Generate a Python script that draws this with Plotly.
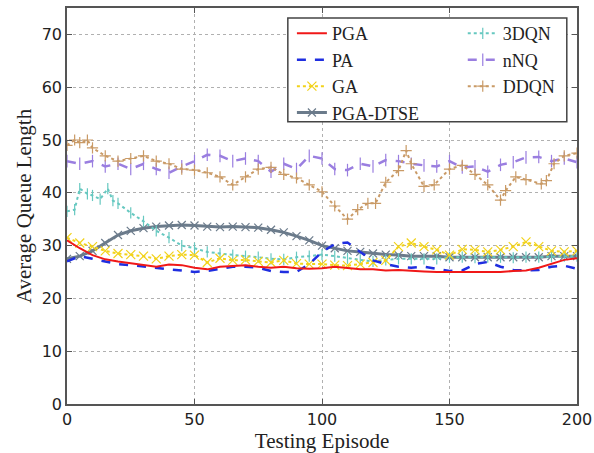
import plotly.graph_objects as go

EPISODES = [0, 5, 10, 15, 20, 25, 30, 35, 40, 45, 50, 55, 60, 65, 70, 75, 80, 85, 90, 95,
            100, 105, 110, 115, 120, 125, 130, 135, 140, 145, 150, 155, 160, 165, 170, 175,
            180, 185, 190, 195, 200]

PGA = [31.0, 29.5, 28.2, 27.4, 27.0, 26.7, 26.3, 26.0, 26.4, 26.3, 25.8, 25.5, 26.0, 26.2,
       26.3, 26.0, 25.8, 26.0, 25.7, 25.6, 25.7, 26.0, 25.8, 25.5, 25.5, 25.3, 25.4, 25.2,
       25.1, 25.0, 25.0, 25.0, 25.0, 25.1, 25.0, 25.2, 25.3, 25.8, 26.5, 27.3, 27.6]

PA = [27.0, 28.0, 27.5, 27.0, 26.5, 26.3, 26.0, 25.8, 25.5, 25.3, 25.0, 25.2, 25.6, 26.0,
      26.0, 25.8, 25.2, 25.0, 25.0, 26.5, 28.8, 30.3, 30.6, 28.8, 27.2, 26.5, 26.0, 25.8,
      26.0, 25.6, 25.2, 25.3, 26.5, 26.9, 26.0, 25.4, 25.3, 25.4, 26.0, 26.2, 25.6]

GA = [31.5, 30.5, 29.8, 29.0, 28.5, 28.3, 28.0, 27.5, 28.0, 28.3, 28.2, 26.8, 27.6, 27.2,
      27.3, 27.0, 26.8, 27.2, 26.6, 26.5, 26.5, 26.3, 26.2, 26.5, 26.8, 27.2, 29.8, 30.5,
      29.8, 29.2, 28.2, 29.3, 29.2, 28.8, 29.2, 29.8, 30.7, 29.8, 29.0, 28.8, 29.0]

PGA_DTSE = [27.5, 28.0, 29.0, 30.5, 32.0, 32.8, 33.3, 33.6, 33.8, 33.9, 33.8, 33.6, 33.5,
            33.6, 33.5, 33.4, 33.0, 32.5, 31.8, 31.0, 30.0, 29.5, 29.0, 28.8, 28.5, 28.3,
            28.2, 28.0, 28.0, 28.0, 27.8, 27.8, 27.8, 27.8, 27.8, 27.8, 27.8, 27.8, 28.0,
            28.0, 28.0]

DQN3_EP = [0, 3, 5, 8, 10, 13, 16, 18, 20, 25, 30, 35, 40, 45, 50, 55, 60, 65, 70, 75, 80,
           85, 90, 95, 100, 105, 110, 115, 120, 125, 130, 135, 140, 145, 150, 155, 160, 165,
           170, 175, 180, 185, 190, 195, 200]
DQN3 = [36.5, 36.8, 40.8, 39.8, 39.5, 38.8, 40.8, 38.5, 38.0, 36.2, 34.6, 32.8, 31.5, 30.0,
        29.5, 28.8, 28.5, 28.2, 28.0, 27.8, 27.5, 27.4, 27.8, 28.0, 28.3, 28.0, 27.6, 27.3,
        27.0, 27.3, 27.5, 27.5, 27.5, 27.5, 27.8, 27.8, 27.7, 27.8, 27.8, 27.7, 27.8, 27.8,
        27.9, 28.0, 28.0]

NNQ = [46.0, 45.5, 46.0, 45.0, 45.5, 44.5, 45.5, 44.5, 43.8, 45.0, 46.0, 47.2, 47.0, 46.0,
       46.5, 46.0, 44.0, 45.5, 44.5, 47.0, 46.5, 44.5, 44.3, 45.5, 45.0, 46.2, 46.0, 45.5,
       45.2, 45.0, 46.0, 44.8, 45.0, 44.0, 45.3, 45.8, 46.7, 46.8, 46.0, 46.5, 45.8]

DDQN_EP = [0, 3, 5, 8, 10, 15, 20, 25, 30, 35, 40, 45, 50, 55, 60, 65, 70, 75, 80, 85, 90,
           95, 100, 105, 110, 114, 118, 121, 125, 130, 133, 135, 140, 144, 150, 155, 160,
           165, 170, 172, 176, 180, 186, 188, 191, 195, 200]
DDQN = [49.0, 50.0, 49.5, 50.0, 48.5, 47.0, 46.0, 46.5, 47.0, 46.0, 45.5, 44.5, 44.3, 43.8,
        43.0, 41.5, 43.0, 44.5, 44.8, 43.5, 42.8, 41.5, 40.2, 37.5, 35.0, 36.8, 38.0, 38.0,
        42.0, 44.2, 48.0, 45.5, 41.2, 41.5, 44.5, 45.2, 43.5, 41.5, 38.6, 40.4, 43.0, 42.5,
        41.7, 42.3, 45.5, 47.0, 47.5]

X_TICKS = [0, 50, 100, 150, 200]
Y_TICKS = [0, 10, 20, 30, 40, 50, 60, 70]

fig = go.Figure()

def add(name, x, y, color, dash, width, symbol=None, msize=7, rank=1, legend="legend"):
    mode = "lines+markers" if symbol else "lines"
    kw = dict(x=x, y=y, name=name, mode=mode, legendrank=rank, legend=legend,
              line=dict(color=color, dash=dash, width=width))
    if symbol:
        kw["marker"] = dict(symbol=symbol, size=msize, color=color,
                            line=dict(color=color, width=1.2))
    fig.add_trace(go.Scatter(**kw))

add("PGA-DTSE", EPISODES, PGA_DTSE, "#6b7b8b", "solid", 3, "x-thin", 8, rank=4)
add("3DQN", DQN3_EP, DQN3, "#66c8c0", "dot", 2, "line-ns", 8, rank=1, legend="legend2")
add("nNQ", EPISODES, NNQ, "#9a7ee0", "dash", 2.5, "line-ns", 9, rank=2, legend="legend2")
add("DDQN", DDQN_EP, DDQN, "#c99a66", "dot", 2, "cross-thin", 8, rank=3, legend="legend2")
add("GA", EPISODES, GA, "#f2d21a", "dot", 2, "x-thin", 9, rank=3)
add("PA", EPISODES, PA, "#1f2ee0", "dash", 2.5, rank=2)
add("PGA", EPISODES, PGA, "#f01818", "solid", 2, rank=1)

axis_common = dict(
    showline=True, linecolor="#555555", linewidth=1.5, mirror="ticks",
    ticks="inside", ticklen=5, tickcolor="#555555",
    showgrid=True, gridcolor="#b0b0b0", griddash="dot", gridwidth=1,
    zeroline=False,
    tickfont=dict(family="DejaVu Sans", size=16, color="#222222"),
)

legend_common = dict(
    orientation="v", xanchor="left", yanchor="top", y=0.982,
    bgcolor="rgba(0,0,0,0)", borderwidth=0,
    font=dict(family="Liberation Serif", size=18, color="#222222"),
    traceorder="normal", tracegroupgap=0,
)

fig.update_layout(
    width=594, height=453,
    margin=dict(l=67, r=17, t=8, b=49, autoexpand=False),
    paper_bgcolor="white", plot_bgcolor="white",
    xaxis=dict(range=[0, 200], tickvals=X_TICKS, title=dict(
        text="Testing Episode", font=dict(family="Liberation Serif", size=21, color="#222222"),
        standoff=2), **axis_common),
    yaxis=dict(range=[0, 75], tickvals=Y_TICKS, title=dict(
        text="Average Queue Length", font=dict(family="Liberation Serif", size=21, color="#222222"),
        standoff=4), **axis_common),
    legend=dict(x=0.441, **legend_common),
    legend2=dict(x=0.776, **legend_common),
    showlegend=True,
    shapes=[dict(type="rect", xref="paper", yref="paper",
                 x0=0.433, x1=0.980, y0=0.713, y1=0.975,
                 line=dict(color="#444444", width=1.5), fillcolor="white", layer="above")],
)

fig.write_html("out.html")
